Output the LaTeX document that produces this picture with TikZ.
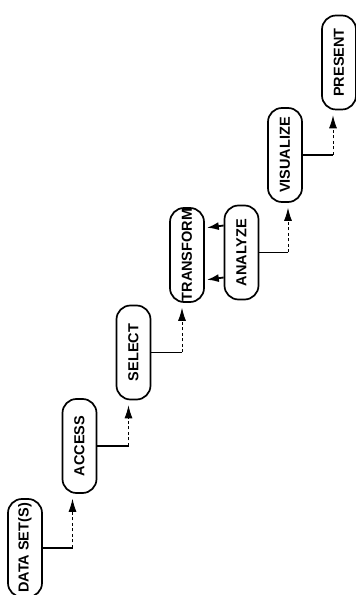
\documentclass[tikz,border=0pt]{standalone}
\usepackage{fontspec}
\setmainfont{Liberation Sans}
\usetikzlibrary{arrows.meta,calc}

\tikzset{
  stage/.style={draw, line width=1.7pt, rounded corners=14pt, rotate=90,
    minimum width=94pt, minimum height=34pt, inner sep=0pt,
    font=\bfseries\fontsize{14.5}{14.5}\selectfont},
  link/.style={line width=1.8pt},
  feed/.style={line width=0.9pt, dash pattern=on 3pt off 2.5pt, shorten >=5pt,
    -{Latex[length=13pt,width=8pt]}},
  back/.style={line width=1.8pt, shorten >=2pt, -{Latex[length=12pt,width=8pt]}},
}

\begin{document}
\begin{tikzpicture}[x=1pt,y=1pt]
  \useasboundingbox (0,0) rectangle (356,595);
  % stages, lowest step first
  \node[stage, minimum width=98pt] (data) at (25,47) {DATA SET(S)};
  \node[stage] (access)    at (79.5,149)  {ACCESS};
  \node[stage] (select)    at (133.5,242.5) {SELECT};
  \node[stage] (transform) at (187,340)   {TRANSFORM};
  \node[stage] (analyze)   at (241.5,342.5) {ANALYZE};
  \node[stage] (visualize) at (285,440)   {VISUALIZE};
  \node[stage] (present)   at (339,532.5) {PRESENT};
  % step connectors: out to the side, then up into the next stage
  \foreach \a/\b/\dx in {data/access/-7, access/select/-5, select/transform/-5,
                         analyze/visualize/3, visualize/present/-6} {
    \coordinate (k-\b) at ($(\b.west)+(\dx,0)$);
    \draw[link] (\a.south) -- (\a.south -| k-\b);
    \draw[feed] (\a.south -| k-\b) -- (k-\b);
  }
  % transform <-> analyze
  \draw[back] ($(analyze.north)+(0,27)$) -- ($(transform.south)+(0,27)$);
  \draw[back] ($(analyze.north)+(0,-25)$) -- ($(transform.south)+(0,-25)$);
\end{tikzpicture}
\end{document}
